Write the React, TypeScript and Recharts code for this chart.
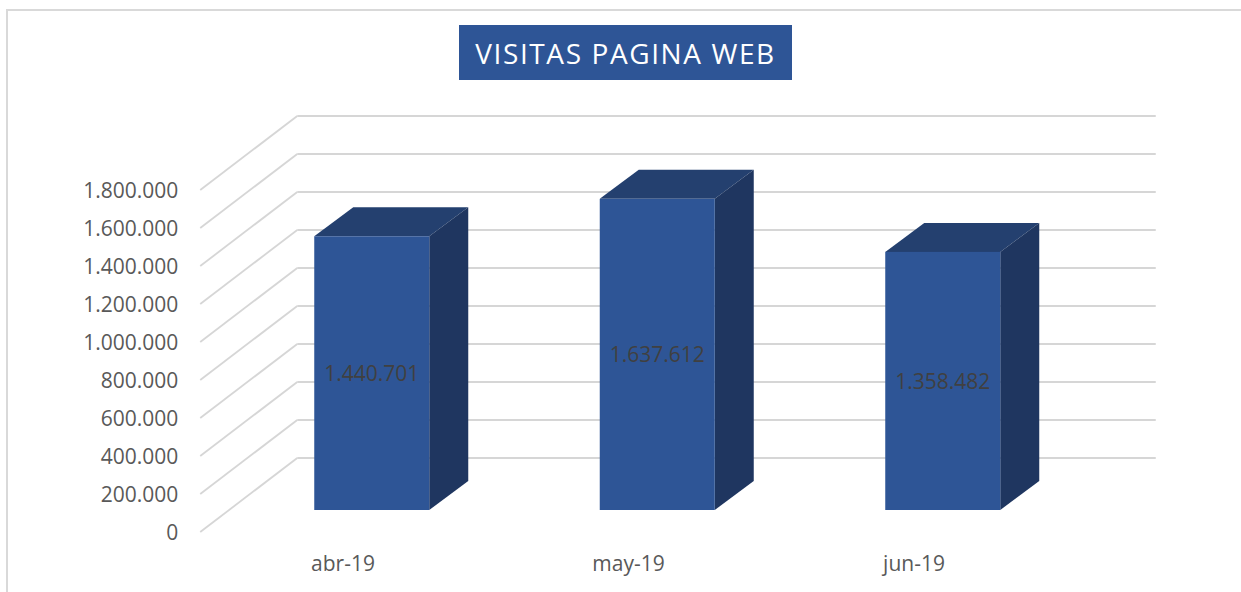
import React from 'react';
import { BarChart, Bar, XAxis, YAxis, CartesianGrid, LabelList } from 'recharts';

const categories = ['abr-19', 'may-19', 'jun-19'];
const visitas = [1440701, 1637612, 1358482];
const yTicks = [0, 200000, 400000, 600000, 800000, 1000000, 1200000, 1400000, 1600000, 1800000];
const title = 'VISITAS PAGINA WEB';

const data = categories.map((mes, i) => ({ mes, visitas: visitas[i] }));

const fmt = (n: number) => String(n).replace(/\B(?=(\d{3})+(?!\d))/g, '.');

const FONT = '"Open Sans", "Noto Sans", sans-serif';
const FRONT = { dx: -29, dy: 22 };
const BACK = { dx: 68, dy: -52 };
const DEPTH = { dx: 39, dy: -29 };

const GridLine = (p: any) => {
  const { x1, x2, y1 } = p;
  const stroke = '#d6d6d6';
  return (
    <g>
      <line x1={x1 + FRONT.dx} y1={y1 + FRONT.dy} x2={x1 + BACK.dx} y2={y1 + BACK.dy} stroke={stroke} strokeWidth={1.8} />
      <line x1={x1 + BACK.dx} y1={y1 + BACK.dy} x2={x2 + 70} y2={y1 + BACK.dy} stroke={stroke} strokeWidth={1.8} />
    </g>
  );
};

const Bar3D = (p: any) => {
  const { x, y, width, height } = p;
  const top = `${x},${y} ${x + DEPTH.dx},${y + DEPTH.dy} ${x + width + DEPTH.dx},${y + DEPTH.dy} ${x + width},${y}`;
  const side = `${x + width},${y} ${x + width + DEPTH.dx},${y + DEPTH.dy} ${x + width + DEPTH.dx},${y + height + DEPTH.dy} ${x + width},${y + height}`;
  return (
    <g>
      <polygon points={top} fill="#24406F" />
      <polygon points={side} fill="#1F3660" />
      <rect x={x} y={y} width={width} height={height} fill="#2E5596" />
    </g>
  );
};

const YTick = (p: any) => (
  <text x={p.x - 51} y={p.y + 22} textAnchor="end" dominantBaseline="central" fill="#595959" fontSize={21} fontFamily={FONT}>
    {fmt(p.payload.value)}
  </text>
);

const XTick = (p: any) => (
  <text x={p.x + FRONT.dx} y={p.y + 53} textAnchor="middle" dominantBaseline="central" fill="#595959" fontSize={21} fontFamily={FONT}>
    {p.payload.value}
  </text>
);

const ValueLabel = (p: any) => (
  <text x={p.x + p.width / 2} y={p.y + p.height / 2} textAnchor="middle" dominantBaseline="central" fill="#404040" fontSize={21} fontFamily={FONT}>
    {fmt(p.value)}
  </text>
);

export default function App() {
  return (
    <div style={{ position: 'absolute', left: 0, top: 0, width: 1241, height: 592, overflow: 'hidden', background: '#fff' }}>
      <div style={{ position: 'absolute', left: 6, top: 9, width: 1400, height: 800, border: '2px solid #d9d9d9' }} />
      <BarChart
        width={1241}
        height={592}
        data={data}
        margin={{ top: 168, right: 155.25, bottom: 52, left: 29.25 }}
        style={{ position: 'absolute', left: 0, top: 0 }}
      >
        <CartesianGrid vertical={false} horizontal={GridLine} />
        <XAxis dataKey="mes" height={30} axisLine={false} tickLine={false} tickSize={0} tickMargin={0} tick={XTick} />
        <YAxis
          width={200}
          domain={[0, 1800000]}
          ticks={yTicks}
          axisLine={false}
          tickLine={false}
          tickSize={0}
          tickMargin={0}
          tick={YTick}
          interval={0}
        />
        <Bar dataKey="visitas" barSize={115} shape={Bar3D} isAnimationActive={false}>
          <LabelList dataKey="visitas" content={ValueLabel} />
        </Bar>
      </BarChart>
      <div
        style={{
          position: 'absolute',
          left: 459,
          top: 25,
          width: 333,
          height: 55,
          background: '#2E5596',
          color: '#ffffff',
          fontFamily: FONT,
          fontSize: 28,
          letterSpacing: 1.6,
          display: 'flex',
          alignItems: 'center',
          justifyContent: 'center',
          whiteSpace: 'nowrap',
        }}
      >
        {title}
      </div>
    </div>
  );
}
